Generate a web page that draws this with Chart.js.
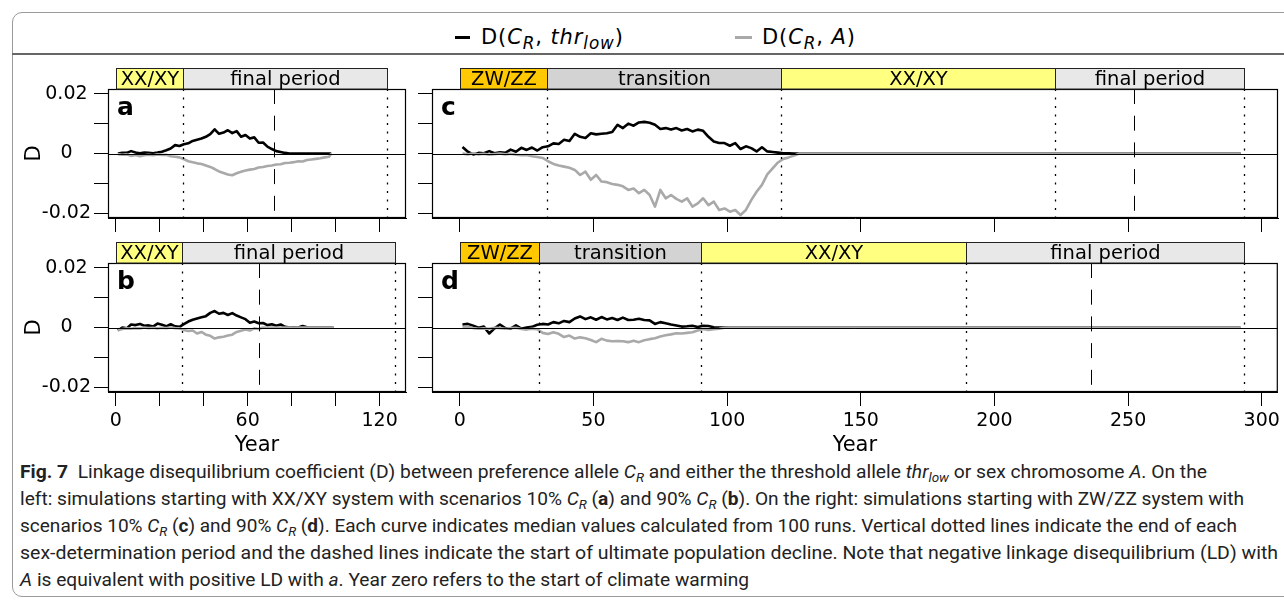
<!DOCTYPE html>
<html>
<head>
<meta charset="utf-8">
<script src="https://cdn.jsdelivr.net/npm/chart.js@4.4.1/dist/chart.umd.min.js"></script>
<style>
  body { margin: 0; background: #fff; }
  #page { position: relative; width: 1284px; height: 600px; overflow: hidden; font-family: "DejaVu Sans", sans-serif; }
  #page canvas { position: absolute; }
  #frame { position: absolute; left: 12px; top: 12px; width: 1300px; height: 583px; border: 1px solid #9a9a9a; border-radius: 10px; }
  #rule { position: absolute; left: 12px; top: 53px; width: 1272px; height: 2px; background: #666; }
  .key { position: absolute; height: 3px; }
  .keytxt { position: absolute; font-size: 21px; line-height: 24px; letter-spacing: 0.9px; white-space: nowrap; color: #000; }
  .keytxt sub { font-size: 0.8em; vertical-align: -0.3em; line-height: 0; }
  .cap { position: absolute; left: 20px; font-family: Roboto, sans-serif; font-size: 17.5px; line-height: 20px; color: #222; white-space: nowrap; transform-origin: 0 0; }
  .cap sub { font-size: 0.7em; vertical-align: -0.3em; line-height: 0; }
</style>
</head>
<body>
<div id="page">
  <div id="frame"></div>
  <div id="rule"></div>
  <div class="key" style="left:455px;top:36px;width:15px;background:#000"></div>
  <div class="keytxt" style="left:481px;top:25px">D(<i>C<sub>R</sub></i>, <i>thr<sub>low</sub></i>)</div>
  <div class="key" style="left:735px;top:36px;width:17px;background:#a9a9a9"></div>
  <div class="keytxt" style="left:762px;top:25px">D(<i>C<sub>R</sub></i>, <i>A</i>)</div>

  <canvas id="panelA" width="396" height="178" style="left:22px;top:60px"></canvas>
  <canvas id="panelB" width="396" height="225" style="left:22px;top:233px"></canvas>
  <canvas id="panelC" width="866" height="178" style="left:418px;top:60px"></canvas>
  <canvas id="panelD" width="866" height="225" style="left:418px;top:233px"></canvas>

  <div class="cap" data-w="1187" style="top:462px"><b>Fig. 7</b>&nbsp; Linkage disequilibrium coefficient (D) between preference allele <i>C<sub>R</sub></i> and either the threshold allele <i>thr<sub>low</sub></i> or sex chromosome <i>A</i>. On the</div>
  <div class="cap" data-w="1224" style="top:489px">left: simulations starting with XX/XY system with scenarios 10% <i>C<sub>R</sub></i> (<b>a</b>) and 90% <i>C<sub>R</sub></i> (<b>b</b>). On the right: simulations starting with ZW/ZZ system with</div>
  <div class="cap" data-w="1217" style="top:516px">scenarios 10% <i>C<sub>R</sub></i> (<b>c</b>) and 90% <i>C<sub>R</sub></i> (<b>d</b>). Each curve indicates median values calculated from 100 runs. Vertical dotted lines indicate the end of each</div>
  <div class="cap" data-w="1258" style="top:543px">sex-determination period and the dashed lines indicate the start of ultimate population decline. Note that negative linkage disequilibrium (LD) with</div>
  <div class="cap" data-w="729" style="top:570px"><i>A</i> is equivalent with positive LD with <i>a</i>. Year zero refers to the start of climate warming</div>
</div>

<script>
// ---- data (D values, per year) ----
const yearsA = [1,3,5,7,9,11,13,15,17,19,21,23,25,27,29,31,33,35,37,39,41,43,45,47,49,51,53,55,57,59,61,63,65,67,69,71,73,75,77,79,81,83,85,87,89,91,93,95,97,98];
const thrA = [0,0.0002,0.0002,0.0008,0.0003,0.0001,0.0003,0.0002,0.0001,0.0003,0.0006,0.0011,0.0017,0.0028,0.0025,0.0031,0.0034,0.0042,0.0046,0.005,0.0056,0.0065,0.0081,0.0066,0.007,0.0078,0.0068,0.0075,0.0056,0.0062,0.005,0.0054,0.0036,0.0037,0.0023,0.0015,0.0008,0.0005,0.0002,0,0,0,0,0,0,0,0,0,0,0];
const sexA = [-0.0002,-0.0004,-0.0003,-0.0008,-0.0005,-0.0009,-0.0006,-0.0004,-0.0006,-0.0003,-0.0005,-0.0004,-0.0009,-0.0011,-0.0013,-0.0019,-0.0026,-0.0029,-0.0033,-0.0035,-0.004,-0.0045,-0.0052,-0.006,-0.0065,-0.007,-0.0073,-0.0066,-0.0061,-0.0057,-0.0054,-0.0052,-0.0047,-0.0045,-0.0042,-0.004,-0.0037,-0.0036,-0.0032,-0.0031,-0.0029,-0.0026,-0.0027,-0.0022,-0.002,-0.0018,-0.0016,-0.0013,-0.0011,0];

const yearsB = [1,3,5,7,9,11,13,15,17,19,21,23,25,27,29,31,33,35,37,39,41,43,45,47,49,51,53,55,57,59,61,63,65,67,69,71,73,75,77,79,81,83,85,87,89,91,93,95,97,99];
const thrB = [-0.001,0,-0.0003,0.001,0.0008,0.0012,0.0006,0.0007,0.0003,0.0013,0.0009,0.0004,0.0011,0.0004,0.0002,0.0011,0.002,0.0026,0.003,0.0034,0.0038,0.0049,0.0055,0.0046,0.0049,0.0042,0.0048,0.004,0.0034,0.0028,0.0016,0.002,0.0014,0.0015,0.0008,0.0011,0.0006,0.001,0.0002,0,0.0001,0,0.0005,0.0001,0,0,0,0,0,0];
const sexB = [-0.0008,-0.0005,-0.0003,-0.0004,-0.0002,-0.0003,0,-0.0002,-0.0001,-0.0003,-0.0001,-0.0002,0,-0.0002,-0.0003,-0.0008,-0.0012,-0.001,-0.002,-0.0015,-0.0024,-0.0028,-0.0037,-0.0033,-0.0031,-0.0027,-0.0024,-0.0015,-0.0011,-0.0007,-0.001,-0.0003,-0.0005,0,-0.0001,0,0,0,0,0,0,0,0,0,0,0,0,0,0,0];

const yearsC = [1,3,5,7,9,11,13,15,17,19,21,23,25,27,29,31,33,35,37,39,41,43,45,47,49,51,53,55,57,59,61,63,65,67,69,71,73,75,77,79,81,83,85,87,89,91,93,95,97,99,101,103,105,107,109,111,113,115,117,119,121,123,125,127,140,160,180,200,220,240,260,280,292];
const thrC = [0.0022,0.0006,-0.0003,0.0002,0.0001,0.0008,0.0001,0.0004,0.0002,0.0013,0.0006,0.0019,0.0012,0.002,0.001,0.0021,0.0024,0.0034,0.0032,0.0046,0.0042,0.0066,0.0056,0.0052,0.0068,0.0064,0.0066,0.0068,0.0072,0.0096,0.0085,0.01,0.0093,0.0104,0.0106,0.0103,0.0096,0.0082,0.0085,0.008,0.0085,0.0077,0.0082,0.0074,0.008,0.0076,0.0056,0.004,0.0035,0.0035,0.0026,0.0035,0.0015,0.0024,0.0018,0.0007,0.0021,0.0007,0.0005,0.0003,0.0001,0.0001,0,0,0,0,0,0,0,0,0,0,0];
const sexC = [0,-0.0003,0.0001,-0.0003,-0.0001,-0.0004,-0.0002,0,-0.0003,-0.0001,-0.0004,-0.0006,-0.0005,-0.0009,-0.0012,-0.0015,-0.0026,-0.0035,-0.004,-0.0044,-0.0048,-0.0055,-0.0072,-0.0061,-0.0088,-0.0072,-0.0094,-0.0096,-0.0102,-0.0105,-0.011,-0.0122,-0.0117,-0.0133,-0.0122,-0.0139,-0.0178,-0.0122,-0.015,-0.0139,-0.0152,-0.0161,-0.015,-0.0178,-0.0167,-0.015,-0.0173,-0.0161,-0.0189,-0.0184,-0.0195,-0.0189,-0.0206,-0.0189,-0.0156,-0.0128,-0.0105,-0.007,-0.005,-0.003,-0.0018,-0.0013,-0.0007,0,0,0,0,0,0,0,0,0,0];

const yearsD = [1,3,5,7,9,11,13,15,17,19,21,23,25,27,29,31,33,35,37,39,41,43,45,47,49,51,53,55,57,59,61,63,65,67,69,71,73,75,77,79,81,83,85,87,89,91,93,95,97,99,101,120,140,160,180,200,220,240,260,280,292];
const thrD = [0.001,0.0012,0.0006,-0.0001,0.0003,-0.002,-0.0003,0.001,-0.0002,-0.0004,0.0007,-0.0004,0,0.0002,0.0009,0.0012,0.001,0.0018,0.0014,0.0022,0.0018,0.003,0.0037,0.0028,0.0034,0.0026,0.0035,0.0027,0.0032,0.0025,0.0033,0.0025,0.0026,0.0029,0.0025,0.0024,0.0012,0.0018,0.0014,0.001,0.0007,0.0003,0.0004,0.0006,0.0002,0.0006,0.0005,0.0001,0,0,0,0,0,0,0,0,0,0,0,0,0];
const sexD = [0.0001,0.0003,-0.0002,-0.0004,-0.0003,-0.0004,-0.0001,-0.0002,-0.0004,-0.0002,-0.0001,-0.0005,-0.0007,-0.0004,-0.0006,-0.0018,-0.0022,-0.0016,-0.0021,-0.0032,-0.0027,-0.0037,-0.0033,-0.0036,-0.0042,-0.0049,-0.0038,-0.0044,-0.0046,-0.0045,-0.0046,-0.0049,-0.0044,-0.0049,-0.0043,-0.0039,-0.0036,-0.003,-0.0026,-0.0023,-0.0019,-0.002,-0.0018,-0.0016,-0.001,-0.0005,-0.0008,-0.0006,-0.0004,-0.0001,0,0,0,0,0,0,0,0,0,0,0];

// sex-determination periods: names and year boundaries, plus start of decline
const periodsXY = ['XX/XY', 'final period'];
const periodsZW = ['ZW/ZZ', 'transition', 'XX/XY', 'final period'];
const boundsA = [0, 30.5, 123.5];
const boundsB = [0, 30, 127];
const boundsC = [0, 32.7, 120, 222.6, 293.4];
const boundsD = [0, 29.5, 90.2, 189.2, 293.2];
const declineA = 72, declineB = 65.3, declineC = 252.3, declineD = 236;

// axes
const yTicks = [-0.02, -0.01, 0, 0.01, 0.02];
const yTickLabels = ['-0.02', '', '0', '', '0.02'];
const xTicksLeft = [0, 20, 40, 60, 80, 100, 120];
const xLabelsLeft = ['0', '', '', '60', '', '', '120'];
const xTicksRight = [0, 50, 100, 150, 200, 250, 300];
const xLabelsRight = ['0', '50', '100', '150', '200', '250', '300'];

// ---- styles ----
const FONT = 'DejaVu Sans';
const periodFill = { 'XX/XY': '#ffff80', 'ZW/ZZ': '#ffc800', 'transition': '#d3d3d3', 'final period': '#e8e8e8' };
Chart.defaults.font.family = FONT;
Chart.defaults.color = '#000';

const decor = {
  id: 'decor',
  afterDatasetsDraw(chart, args, o) {
    const { ctx, chartArea: a, scales: { x, y } } = chart;
    ctx.save();
    ctx.strokeStyle = '#000';
    ctx.lineWidth = 1;
    const y0 = Math.round(y.getPixelForValue(0)) + 0.5;
    ctx.beginPath(); ctx.moveTo(a.left, y0); ctx.lineTo(a.right, y0); ctx.stroke();
    ctx.setLineDash([2, 6.5]);
    ctx.lineWidth = 1.3;
    o.bounds.slice(1).forEach(b => {
      const px = Math.round(x.getPixelForValue(b)) + 0.5;
      ctx.beginPath(); ctx.moveTo(px, a.top); ctx.lineTo(px, a.bottom); ctx.stroke();
    });
    ctx.setLineDash([15, 11.7]);
    ctx.lineWidth = 1;
    const pd = Math.round(x.getPixelForValue(o.decline)) + 0.5;
    ctx.beginPath(); ctx.moveTo(pd, a.top); ctx.lineTo(pd, a.bottom); ctx.stroke();
    ctx.setLineDash([]);
    ctx.lineWidth = 1.2;
    ctx.strokeRect(a.left + 0.5, a.top + 0.5, a.right - a.left - 1, a.bottom - a.top - 1);
    ctx.restore();
  },
  afterDraw(chart, args, o) {
    const { ctx, chartArea: a, scales: { x } } = chart;
    ctx.save();
    o.periods.forEach((name, i) => {
      const x1 = Math.round(x.getPixelForValue(o.bounds[i])) + 0.5;
      const x2 = Math.round(x.getPixelForValue(o.bounds[i + 1])) + 0.5;
      const top = a.top - 20.5;
      ctx.fillStyle = periodFill[name];
      ctx.fillRect(x1, top, x2 - x1, 20.5);
      ctx.strokeStyle = '#222';
      ctx.lineWidth = 1;
      ctx.strokeRect(x1, top, x2 - x1, 20.5);
      ctx.fillStyle = '#000';
      ctx.font = '19.5px "' + FONT + '"';
      ctx.textAlign = 'center';
      ctx.textBaseline = 'alphabetic';
      ctx.fillText(name, (x1 + x2) / 2, a.top - 4);
    });
    ctx.font = 'bold 25px "' + FONT + '"';
    ctx.textAlign = 'left';
    ctx.fillStyle = '#000';
    ctx.fillText(o.letter, a.left + 9, a.top + 26);
    ctx.restore();
  }
};

function panel(id, p) {
  const tickFont = { family: FONT, size: 19 };
  const grid = { drawOnChartArea: false, drawTicks: true, tickLength: 14, color: '#000', lineWidth: 1 };
  return new Chart(document.getElementById(id).getContext('2d'), {
    type: 'line',
    data: {
      datasets: [
        { label: 'D(C_R, A)', data: p.years.map((v, i) => ({ x: v, y: p.sex[i] })),
          borderColor: '#a9a9a9', borderWidth: 2.6, pointRadius: 0, borderJoinStyle: 'round', order: 0 },
        { label: 'D(C_R, thr_low)', data: p.years.map((v, i) => ({ x: v, y: p.thr[i] })),
          borderColor: '#000', borderWidth: 2.6, pointRadius: 0, borderJoinStyle: 'round', order: 1 }
      ]
    },
    options: {
      responsive: false,
      animation: false,
      devicePixelRatio: 1,
      layout: { padding: { left: 0, bottom: 0, top: p.padTop, right: p.padRight } },
      plugins: {
        legend: { display: false },
        tooltip: { enabled: false },
        decor: { periods: p.periods, bounds: p.bounds, decline: p.decline, letter: p.letter }
      },
      scales: {
        x: {
          type: 'linear', min: p.xMin, max: p.xMax,
          afterBuildTicks: s => { s.ticks = p.xTicks.map(v => ({ value: v })); },
          afterFit: s => { s.height = p.xHeight; },
          ticks: { display: p.xLabels !== null, callback: (v, i) => p.xLabels ? p.xLabels[i] : '',
                   font: tickFont, color: '#000', padding: 4, maxRotation: 0, autoSkip: false },
          grid: grid,
          border: { display: true, color: '#000', width: 1 },
          title: { display: p.xLabels !== null, text: 'Year', font: { family: FONT, size: 21 }, color: '#000', padding: 0 }
        },
        y: {
          min: -0.0216, max: 0.0216,
          afterBuildTicks: s => { s.ticks = yTicks.map(v => ({ value: v })); },
          afterFit: s => { s.width = p.yWidth; },
          ticks: { display: p.yLabels, callback: (v, i) => yTickLabels[i], crossAlign: 'center',
                   font: tickFont, color: '#000', padding: 3 },
          grid: grid,
          border: { display: true, color: '#000', width: 1 },
          title: { display: p.yLabels, text: 'D', font: { family: FONT, size: 21 }, color: '#000', padding: 0 }
        }
      }
    },
    plugins: [decor]
  });
}

panel('panelA', { years: yearsA, thr: thrA, sex: sexA, periods: periodsXY, bounds: boundsA, decline: declineA, letter: 'a',
  xMin: -3.5, xMax: 132, xTicks: xTicksLeft, xLabels: null, yLabels: true, padTop: 29, padRight: 12, xHeight: 20, yWidth: 86 });
panel('panelB', { years: yearsB, thr: thrB, sex: sexB, periods: periodsXY, bounds: boundsB, decline: declineB, letter: 'b',
  xMin: -3.5, xMax: 132, xTicks: xTicksLeft, xLabels: xLabelsLeft, yLabels: true, padTop: 30, padRight: 12, xHeight: 66, yWidth: 86 });
panel('panelC', { years: yearsC, thr: thrC, sex: sexC, periods: periodsZW, bounds: boundsC, decline: declineC, letter: 'c',
  xMin: -10.4, xMax: 306, xTicks: xTicksRight, xLabels: null, yLabels: false, padTop: 29, padRight: 6, xHeight: 20, yWidth: 14 });
panel('panelD', { years: yearsD, thr: thrD, sex: sexD, periods: periodsZW, bounds: boundsD, decline: declineD, letter: 'd',
  xMin: -10.4, xMax: 306, xTicks: xTicksRight, xLabels: xLabelsRight, yLabels: false, padTop: 30, padRight: 6, xHeight: 66, yWidth: 14 });

// fit each caption line to the width it has in the figure
document.querySelectorAll('.cap').forEach(el => {
  const w = el.getBoundingClientRect().width;
  el.style.transform = 'scaleX(' + (+el.dataset.w / w) + ')';
});
</script>
</body>
</html>
